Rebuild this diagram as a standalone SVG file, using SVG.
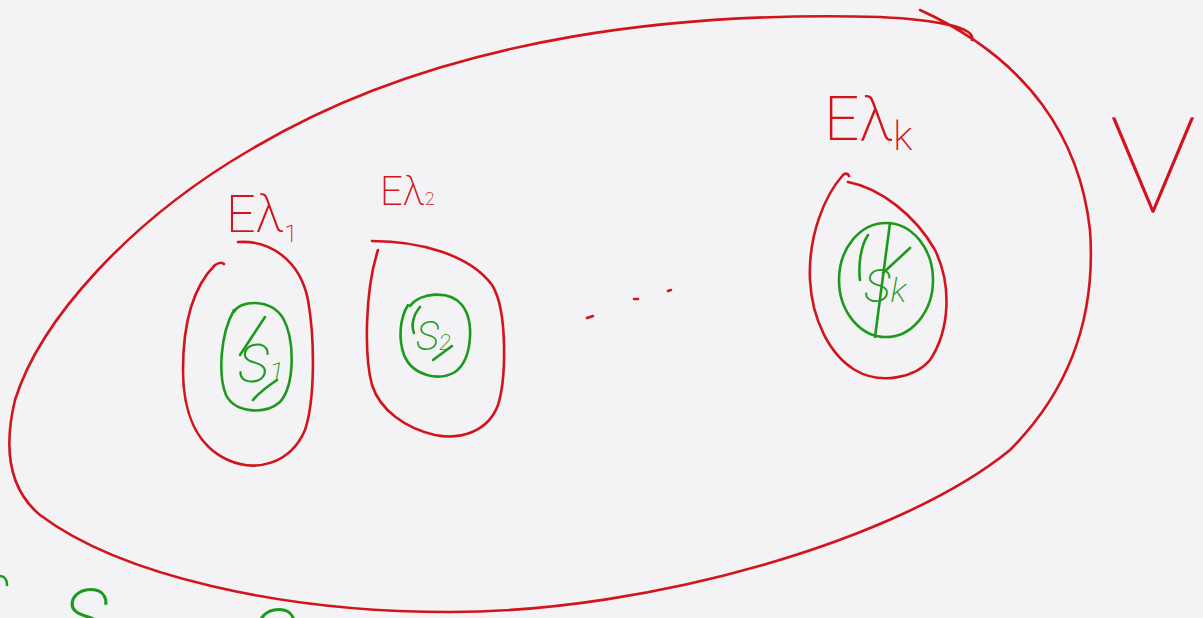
<svg xmlns="http://www.w3.org/2000/svg" width="1203" height="618" viewBox="0 0 1203 618">
<style>
.red{fill:none;stroke:#d2141c;stroke-width:2.6;stroke-linecap:round;stroke-linejoin:round}
.grn{fill:none;stroke:#1c9a1c;stroke-width:2.6;stroke-linecap:round;stroke-linejoin:round}
.lr{fill:#d2141c;font-family:Roboto,"DejaVu Sans",sans-serif;font-weight:200}
.lg{fill:#1c9a1c;font-family:Roboto,"DejaVu Sans",sans-serif;font-weight:200;font-style:italic}
.thin{font-family:"Lato Hairline","Roboto Thin","DejaVu Sans ExtraLight",Roboto,sans-serif;font-weight:100;stroke:#d2141c;stroke-width:1.6;stroke-linejoin:round}
</style>
<rect width="1203" height="618" fill="#f3f2f5"/>
<g id="set-V">
<path class="red" d="M972 40 C976 28 940 20 880 17 C700 12 450 30 250 150 C130 220 40 320 15 400 C3 450 10 490 40 515 C120 575 280 612 450 612 C650 612 900 540 1010 450 C1080 380 1095 300 1090 230 C1080 140 1030 60 920 10"/>
<text class="lr thin" x="1110" y="212" font-size="135">V</text>
</g>
<g id="node-E1">
<path class="red" d="M238 242 C270 240 300 260 308 300 C315 340 315 400 305 430 C290 465 255 472 228 460 C195 445 183 410 183 370 C183 320 195 285 215 265 C218 263 222 262 224 264"/>
<text class="lr" x="226" y="232" font-size="52">Eλ<tspan font-size="24" dy="10">1</tspan></text>
<path class="grn" d="M234 312 C240 300 270 298 283 318 C295 340 295 385 280 402 C265 415 235 413 226 395 C218 375 220 335 234 310"/>
<text class="lg" x="238" y="382" font-size="54">S<tspan font-size="28">1</tspan></text>
<path class="grn" d="M265 317 L240 355 M277 380 C268 386 258 394 253 400"/>
</g>
<g id="node-E2">
<path class="red" d="M372 241 C420 241 470 255 492 285 C508 310 506 380 498 405 C488 432 460 440 435 435 C405 428 380 410 372 385 C364 355 365 290 378 250"/>
<text class="lr" x="380" y="205" font-size="40">Eλ<tspan font-size="18">2</tspan></text>
<path class="grn" d="M410 306 C420 292 450 290 462 305 C475 322 472 360 455 372 C438 382 412 375 404 355 C398 338 400 318 408 305"/>
<text class="lg" x="416" y="350" font-size="40">S<tspan font-size="22">2</tspan></text>
<path class="grn" d="M420 307 C413 315 411 326 414 333 M433 360 L452 346"/>
</g>
<g id="node-Ek">
<path class="red" d="M848 182 C880 188 915 215 935 250 C952 285 950 330 930 360 C915 378 880 385 855 370 C830 355 812 320 810 280 C808 235 825 195 843 175 C845 173 848 173 849 176"/>
<text class="lr" x="824" y="140" font-size="62">Eλ<tspan font-size="40" dy="10">k</tspan></text>
<ellipse class="grn" cx="886" cy="280" rx="47" ry="57"/>
<text class="lg" x="864" y="302" font-size="46">S<tspan font-size="34">k</tspan></text>
<path class="grn" d="M890 223 L875 337 M860 280 C858 265 861 245 868 235 M910 248 L883 273"/>
</g>
<g id="connectors">
<path class="red" d="M587 318 L593 316 M634 299 L638 299 M668 291 L671 290"/>
</g>
<g id="cut-off-text">
<path class="grn" d="M0 576 C4 576 7 579 7 585"/>
<text class="lg" x="62" y="645" font-size="80">S</text>
<text class="lg" x="250" y="665" font-size="80">S</text>
</g>
</svg>
